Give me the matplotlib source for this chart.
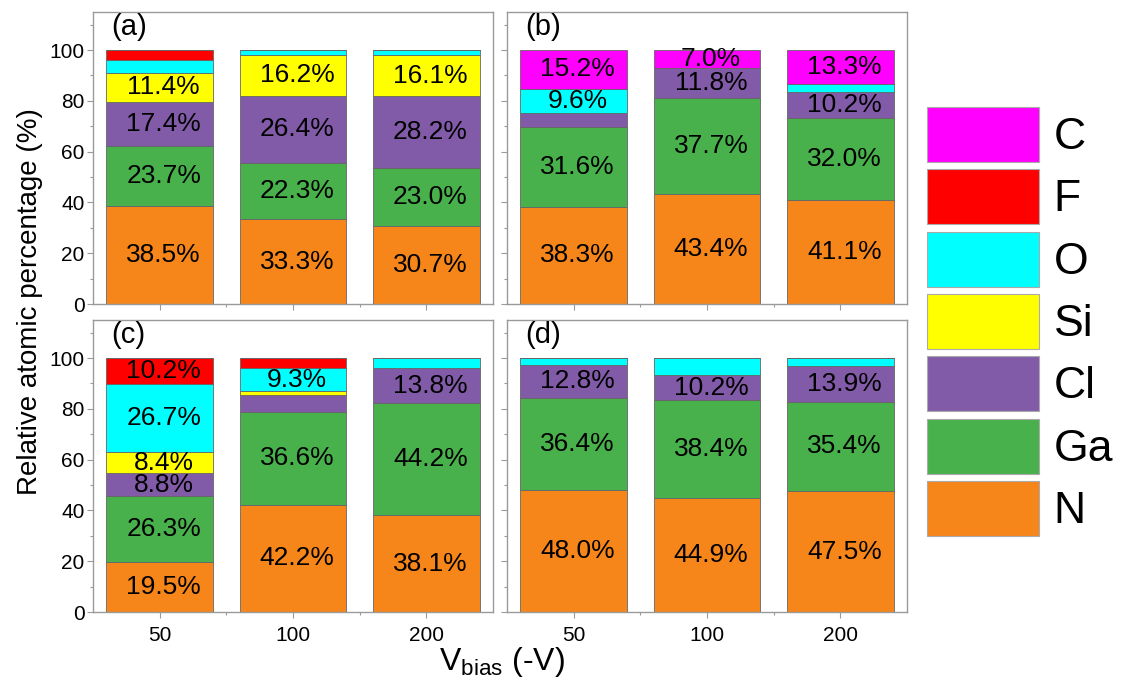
import numpy as np
import matplotlib
matplotlib.use('Agg')
import matplotlib.pyplot as plt
from matplotlib.patches import Patch

plt.rcParams['font.family'] = ['Liberation Sans', 'DejaVu Sans']
plt.rcParams['mathtext.fontset'] = 'custom'
plt.rcParams['mathtext.rm'] = 'Liberation Sans'

voltages = ['50', '100', '200']
elements = ['N', 'Ga', 'Cl', 'Si', 'O', 'F', 'C']   # bottom -> top
colors = ['#f7861a', '#48b14c', '#825ba8', '#ffff00', '#00ffff', '#ff0000', '#ff00ff']

# atomic percentages per panel, rows = elements (N, Ga, Cl, Si, O, F, C), cols = 50/100/200 V
panel_a = [[38.5, 33.3, 30.7],
           [23.7, 22.3, 23.0],
           [17.4, 26.4, 28.2],
           [11.4, 16.2, 16.1],
           [5.1, 1.8, 2.0],
           [3.9, 0.0, 0.0],
           [0.0, 0.0, 0.0]]
panel_b = [[38.3, 43.4, 41.1],
           [31.6, 37.7, 32.0],
           [5.3, 11.8, 10.2],
           [0.0, 0.0, 0.0],
           [9.6, 0.0, 3.4],
           [0.0, 0.0, 0.0],
           [15.2, 7.0, 13.3]]
panel_c = [[19.5, 42.2, 38.1],
           [26.3, 36.6, 44.2],
           [8.8, 6.7, 13.8],
           [8.4, 1.4, 0.0],
           [26.7, 9.3, 3.9],
           [10.2, 3.8, 0.0],
           [0.0, 0.0, 0.0]]
panel_d = [[48.0, 44.9, 47.5],
           [36.4, 38.4, 35.4],
           [12.8, 10.2, 13.9],
           [0.0, 0.0, 0.0],
           [2.8, 6.5, 3.2],
           [0.0, 0.0, 0.0],
           [0.0, 0.0, 0.0]]
panel_tags = ['(a)', '(b)', '(c)', '(d)']

W, H = 1122, 684
fig = plt.figure(figsize=(W / 100, H / 100), dpi=100)

def frac(x0, y0, x1, y1):
    return [x0 / W, 1 - y1 / H, (x1 - x0) / W, (y1 - y0) / H]

boxes = [frac(93, 12, 493, 304), frac(507, 12, 907, 304),
         frac(93, 320, 493, 612), frac(507, 320, 907, 612)]
spine_col = '#9a9a9a'

for i, (data, tag) in enumerate(zip([panel_a, panel_b, panel_c, panel_d], panel_tags)):
    ax = fig.add_axes(boxes[i])
    data = np.array(data)
    x = np.arange(len(voltages))
    bottom = np.zeros(len(voltages))
    for vals, col in zip(data, colors):
        ax.bar(x, vals, width=0.8, bottom=bottom, color=col,
               edgecolor='#666666', linewidth=0.6)
        for xi, v, b in zip(x, vals, bottom):
            if v >= 7.0:
                ax.text(xi + 0.03, b + v / 2, f'{v:.1f}%', ha='center', va='center',
                        fontsize=19)
        bottom += vals

    ax.set_xlim(-0.5, 2.5)
    ax.set_ylim(0, 115)
    ax.set_xticks(x)
    ax.set_xticks([0.5, 1.5], minor=True)
    ax.set_yticks(np.arange(0, 101, 20))
    ax.set_yticks(np.arange(10, 115, 20), minor=True)
    ax.tick_params(which='major', direction='out', length=4, width=0.8, pad=2,
                   color=spine_col, labelsize=15)
    ax.tick_params(which='minor', direction='out', length=2.5, width=0.8, color=spine_col)
    ax.tick_params(axis='x', which='major', pad=6)
    if i < 2:
        ax.set_xticklabels([])
    else:
        ax.set_xticklabels(voltages)
    if i % 2 == 1:
        ax.set_yticklabels([])
    for s in ax.spines.values():
        s.set_color(spine_col)
        s.set_linewidth(1.0)
    ax.text(0.045, 0.995, tag, transform=ax.transAxes, ha='left', va='top', fontsize=21)

fig.text(30 / W, 1 - 302 / H, 'Relative atomic percentage (%)', rotation=90,
         ha='center', va='center', fontsize=20)
fig.text(502 / W, 1 - 670 / H, r'V$_{\mathregular{bias}}$ (-V)', ha='center',
         va='baseline', fontsize=23)

handles = [Patch(facecolor=c, edgecolor='#aaaaaa', linewidth=0.8, label=e)
           for e, c in zip(elements[::-1], colors[::-1])]
fs = 32
fig.legend(handles=handles, loc='upper left', bbox_to_anchor=(927 / W, 1 - 107 / H),
           frameon=False, fontsize=fs, borderpad=0, borderaxespad=0,
           handlelength=112 / (fs * 100 / 72), handleheight=1.52,
           labelspacing=0.17, handletextpad=0.33)

fig.savefig('out.png', dpi=100)
